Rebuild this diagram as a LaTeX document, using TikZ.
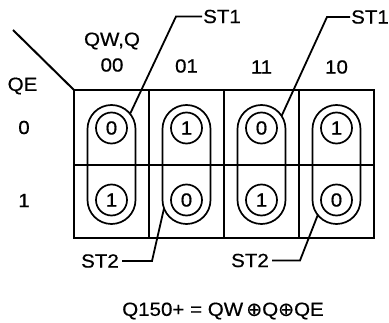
\documentclass[tikz,border=0pt]{standalone}
\usepackage{fontspec}
\setmainfont[FakeStretch=1.08,FakeBold=0.6]{Liberation Sans}
\newfontfamily\symfont[FakeBold=0.6]{DejaVu Sans}
\begin{document}
\begin{tikzpicture}[x=1pt,y=-1pt,
  lbl/.style={inner sep=0pt,font=\fontsize{19}{21}\selectfont},
  grid/.style={line width=2pt},
  pill/.style={line width=1.7pt,rounded corners=24pt},
  ring/.style={circle,draw,line width=1.7pt,minimum size=31pt,inner sep=0pt,font=\fontsize{19}{21}\selectfont},
  leader/.style={line width=1.8pt}]
\useasboundingbox (0,0) rectangle (389,323);
% grid
\draw[grid] (74,90) rectangle (374,238);
\draw[grid] (149,90) -- (149,238);
\draw[grid] (224,90) -- (224,238);
\draw[grid] (299,90) -- (299,238);
\draw[grid] (74,165) -- (374,165);
\draw[grid] (13,30) -- (74,90);
% headers
\node[lbl] (qwq) at (112,41) {QW,Q};
\node[lbl] (h00) at (112,65) {00};
\node[lbl] (h01) at (186.5,66) {01};
\node[lbl] (h11) at (261.5,67) {11};
\node[lbl] (h10) at (336.5,67) {10};
\node[lbl] (qe) at (22.5,86) {QE};
\node[lbl] (r0) at (24,127.5) {0};
\node[lbl] (r1) at (24,200.5) {1};
% pills
\foreach \c in {111.5,186.5,261.5,336.5}{
  \draw[pill] (\c-24,105) rectangle (\c+24,224);
}
% circles
\node[ring] (a0) at (111.5,128) {0};
\node[ring] (a1) at (111.5,200) {1};
\node[ring] (b0) at (186.5,128) {1};
\node[ring] (b1) at (186.5,200) {0};
\node[ring] (c0) at (261.5,128) {0};
\node[ring] (c1) at (261.5,200) {1};
\node[ring] (d0) at (336.5,128) {1};
\node[ring] (d1) at (336.5,200) {0};
% leader labels
\node[lbl,anchor=west] (st1a) at (203,16.5) {ST1};
\node[lbl,anchor=west] (st1b) at (351,17) {ST1};
\node[lbl,anchor=east] (st2a) at (119,261) {ST2};
\node[lbl,anchor=east] (st2b) at (269,260.5) {ST2};
\coordinate (p1) at (130.3,113.4);
\coordinate (p2) at (281.6,115.9);
\coordinate (p3) at (164.0,208.4);
\coordinate (p4) at (317.8,214.9);
\draw[leader] (p1) -- ([xshift=-27pt]st1a.west) -- ([xshift=-1pt]st1a.west);
\draw[leader] (p2) -- ([xshift=-24pt]st1b.west) -- ([xshift=-1pt]st1b.west);
\draw[leader] (p3) -- ([xshift=33pt]st2a.east) -- ([xshift=3pt]st2a.east);
\draw[leader] (p4) -- ([xshift=31pt]st2b.east) -- ([xshift=3pt]st2b.east);
% equation
\node[lbl] (eq) at (223,311) {Q150+ = QW\,{\symfont ⊕}Q{\symfont ⊕}QE};
\end{tikzpicture}
\end{document}
